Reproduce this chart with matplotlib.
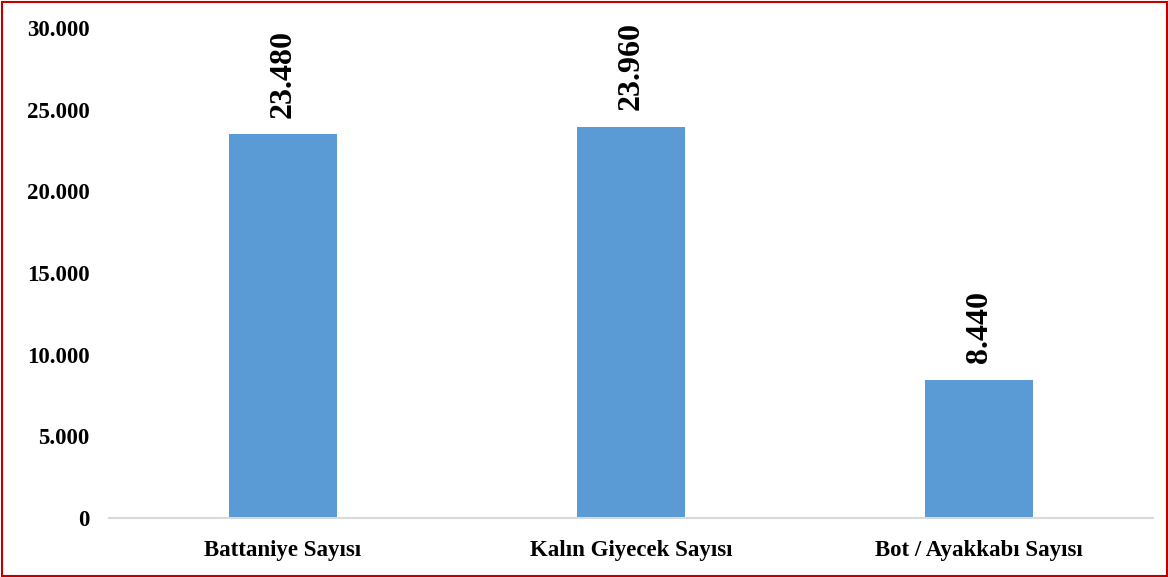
import matplotlib
matplotlib.use("Agg")
import matplotlib.pyplot as plt
from matplotlib.patches import Rectangle
from matplotlib.ticker import FuncFormatter

categories = ["Battaniye Sayısı", "Kalın Giyecek Sayısı", "Bot / Ayakkabı Sayısı"]
values = [23480, 23960, 8440]
yticks = [0, 5000, 10000, 15000, 20000, 25000, 30000]

def fmt(v):
    return f"{int(v):,}".replace(",", ".")

plt.rcParams['font.family'] = ['Liberation Serif', 'DejaVu Serif']

fig = plt.figure(figsize=(11.68, 5.77), dpi=100)
ax = fig.add_axes([109/1168, 1 - 518/577, (1153-109)/1168, (518-28)/577])

x = list(range(len(categories)))
bars = ax.bar(x, values, width=0.313, color="#5B9BD5", zorder=2)
ax.set_xlim(-0.5, len(categories) - 0.5)
ax.set_ylim(0, 30000)
ax.set_yticks(yticks)
ax.yaxis.set_major_formatter(FuncFormatter(lambda v, p: fmt(v)))
ax.set_xticks(x)
ax.set_xticklabels(categories)

for s in ["top", "right", "left"]:
    ax.spines[s].set_visible(False)
ax.spines["bottom"].set_color("#d9d9d9")
ax.spines["bottom"].set_linewidth(1.5)
ax.tick_params(axis="both", length=0, labelsize=16.5)
ax.tick_params(axis="y", pad=14)
ax.tick_params(axis="x", pad=16)
for lbl in ax.get_xticklabels() + ax.get_yticklabels():
    lbl.set_fontweight("bold")

for b, v in zip(bars, values):
    ax.annotate(fmt(v), (b.get_x() + b.get_width()/2, v), xytext=(0, 12),
                textcoords="offset points", rotation=90, ha="center", va="bottom",
                fontsize=23, fontweight="bold")

fig.patches.append(Rectangle((1.5/1168, 1.5/577), 1 - 3/1168, 1 - 3/577,
                             transform=fig.transFigure, fill=False,
                             edgecolor="#C00000", linewidth=1.5))

fig.savefig("out.png", dpi=100)
